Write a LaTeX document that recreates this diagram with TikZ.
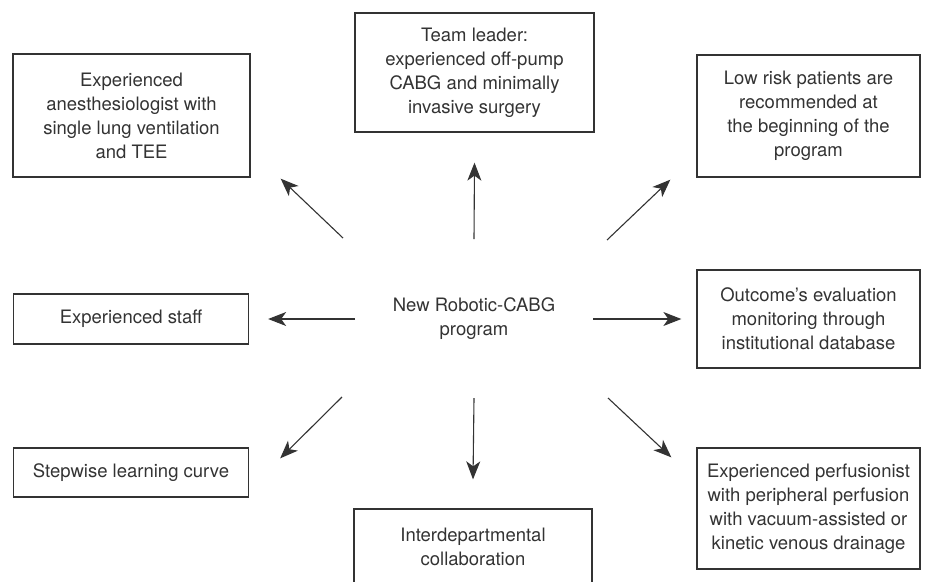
\documentclass[tikz,border=0pt]{standalone}
\usepackage{fontspec}
\setmainfont{TeX Gyre Heros}
\usetikzlibrary{arrows.meta}
\definecolor{ink}{HTML}{333333}

\begin{document}
\begin{tikzpicture}[x=1pt,y=-1pt,
  item/.style={draw=ink,line width=1.3pt,text=ink,inner sep=0pt,align=center,
    font=\fontsize{18.5}{24}\selectfont},
  arr/.style={-{Stealth[length=18pt,width=14pt,inset=5pt]},line width=1.1pt,draw=ink}]
  \useasboundingbox (0,0) rectangle (925,581);
  \node[text=ink,align=center,font=\fontsize{18.5}{24}\selectfont] (prog) at (474,319) {New Robotic-CABG\\program};
  \node[item,minimum width=237pt,minimum height=123pt] (anest) at (131.5,115.5) {Experienced\\anesthesiologist with\\single lung ventilation\\and TEE};
  \node[item,minimum width=239pt,minimum height=119pt] (lead) at (474.5,72.5) {Team leader:\\experienced off-pump\\CABG and minimally\\invasive surgery};
  \node[item,minimum width=223pt,minimum height=122pt] (lowrisk) at (808.5,116) {Low risk patients are\\recommended at\\the beginning of the\\program};
  \node[item,minimum width=235pt,minimum height=50pt] (staff) at (131,319) {Experienced staff};
  \node[item,minimum width=223pt,minimum height=98pt] (outcome) at (808.5,319) {Outcome's evaluation\\monitoring through\\institutional database};
  \node[item,minimum width=235pt,minimum height=49pt] (step) at (131,472.5) {Stepwise learning curve};
  \node[item,minimum width=238pt,minimum height=76pt] (inter) at (473,547) {Interdepartmental\\collaboration};
  \node[item,minimum width=223pt,minimum height=121pt] (perf) at (808.5,508.5) {Experienced perfusionist\\with peripheral perfusion\\with vacuum-assisted or\\kinetic venous drainage};

  \draw[arr] ([shift={(-131,-81)}]prog.center) -- ([shift={(30,1)}]anest.south east);
  \draw[arr] ([shift={(0,-80)}]prog.center) -- ([shift={(0,30)}]lead.south);
  \draw[arr] ([shift={(133,-79)}]prog.center) -- ([shift={(-26,2)}]lowrisk.south west);
  \draw[arr] ([shift={(-119,0)}]prog.center) -- ([shift={(19,0)}]staff.east);
  \draw[arr] ([shift={(119,0)}]prog.center) -- ([shift={(-15,0)}]outcome.west);
  \draw[arr] ([shift={(-132,78)}]prog.center) -- ([shift={(31,11)}]step.north east);
  \draw[arr] ([shift={(0,79)}]prog.center) -- ([shift={(0,-29)}]inter.north);
  \draw[arr] ([shift={(134,79)}]prog.center) -- ([shift={(-25,10)}]perf.north west);
\end{tikzpicture}
\end{document}
